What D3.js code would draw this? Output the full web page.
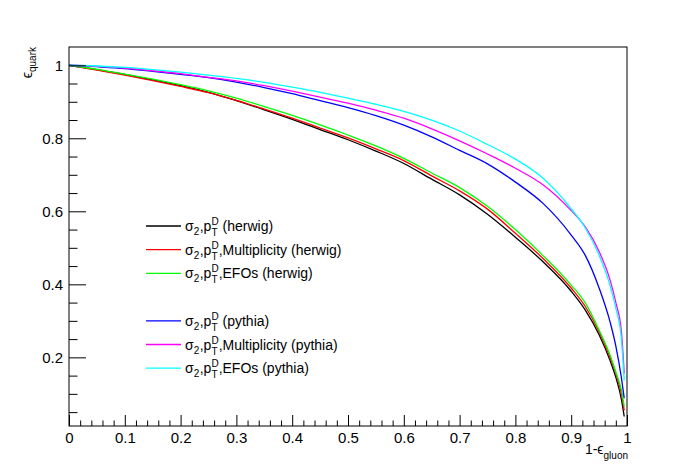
<!DOCTYPE html>
<meta charset="utf-8">
<style>
body { margin: 0; background: #fff; }
svg text { font-family: "Liberation Sans", Arial, Helvetica, sans-serif; fill: #000; white-space: pre; }
.curve { fill: none; stroke-width: 1.3px; }
</style>
<svg width="698" height="475"></svg>
<script src="https://cdn.jsdelivr.net/npm/d3@7"></script>
<script>

// 1 - gluon efficiency (x) sampled along the curves
var effGluon = [0, 0.05, 0.1, 0.15, 0.2, 0.25, 0.3, 0.35, 0.4, 0.45, 0.5, 0.55, 0.6, 0.65, 0.7, 0.75, 0.8, 0.85, 0.9, 0.925, 0.95, 0.97, 0.98, 0.99, 0.995];

// quark efficiency for each curve
var herwigBase  = [1, 0.988, 0.975, 0.960, 0.944, 0.926, 0.903, 0.878, 0.852, 0.824, 0.796, 0.765, 0.731, 0.688, 0.645, 0.592, 0.529, 0.461, 0.381, 0.330, 0.262, 0.190, 0.145, 0.085, 0.038];
var herwigMult  = [1, 0.987, 0.973, 0.958, 0.942, 0.925, 0.904, 0.880, 0.855, 0.828, 0.801, 0.771, 0.739, 0.697, 0.656, 0.606, 0.540, 0.470, 0.390, 0.340, 0.270, 0.198, 0.155, 0.100, 0.055];
var herwigEFOs  = [1, 0.989, 0.976, 0.962, 0.947, 0.930, 0.910, 0.887, 0.863, 0.837, 0.809, 0.779, 0.745, 0.705, 0.665, 0.614, 0.550, 0.478, 0.398, 0.350, 0.275, 0.205, 0.160, 0.110, 0.065];
var pythiaBase  = [1, 0.996, 0.991, 0.983, 0.975, 0.966, 0.954, 0.939, 0.922, 0.903, 0.884, 0.862, 0.836, 0.804, 0.767, 0.730, 0.680, 0.621, 0.535, 0.480, 0.390, 0.295, 0.231, 0.144, 0.088];
var pythiaMult  = [1, 0.997, 0.992, 0.985, 0.977, 0.967, 0.957, 0.944, 0.929, 0.913, 0.896, 0.877, 0.855, 0.826, 0.793, 0.757, 0.718, 0.672, 0.602, 0.558, 0.490, 0.410, 0.350, 0.270, 0.156];
var pythiaEFOs  = [1, 0.998, 0.994, 0.988, 0.981, 0.973, 0.964, 0.953, 0.940, 0.926, 0.910, 0.893, 0.874, 0.850, 0.820, 0.783, 0.743, 0.690, 0.607, 0.555, 0.480, 0.395, 0.335, 0.250, 0.137];

var seriesValues = [herwigBase, herwigMult, herwigEFOs, pythiaBase, pythiaMult, pythiaEFOs];
var seriesColors = ["#000000", "#ff0000", "#00ff00", "#0000ff", "#ff00ff", "#00ffff"];
var legendTails = [" (herwig)", ",Multiplicity (herwig)", ",EFOs (herwig)", " (pythia)", ",Multiplicity (pythia)", ",EFOs (pythia)"];
var legendRows = [0, 1, 2, 4, 5, 6];

var xTicks = [0, 0.1, 0.2, 0.3, 0.4, 0.5, 0.6, 0.7, 0.8, 0.9, 1];
var xTickLabels = ["0", "0.1", "0.2", "0.3", "0.4", "0.5", "0.6", "0.7", "0.8", "0.9", "1"];
var yTicks = [0.2, 0.4, 0.6, 0.8, 1];
var yTickLabels = ["0.2", "0.4", "0.6", "0.8", "1"];

var svg = d3.select("svg");
var padL = 69, padR = 627, padT = 47, padB = 426;

var x = d3.scaleLinear().domain([0, 1]).range([padL, padR]);
var y = d3.scaleLinear().domain([0.012, 1.05]).range([padB, padT]);

// curves
var line = d3.line()
  .curve(d3.curveMonotoneX)
  .x(function(d) { return x(d[0]); })
  .y(function(d) { return y(d[1]); });
seriesValues.forEach(function(vals, i) {
  svg.append("path")
    .attr("class", "curve")
    .attr("stroke", seriesColors[i])
    .attr("d", line(effGluon.map(function(e, j) { return [e, vals[j]]; })));
});

// x axis
var xMinor = d3.range(0, 51).map(function(i) { return i / 50; }).filter(function(v, i) { return i % 5 != 0; });
svg.append("g").attr("transform", "translate(0," + padB + ")")
  .call(d3.axisBottom(x).tickValues(xMinor).tickSizeInner(-5.5).tickSizeOuter(0).tickFormat(""))
  .call(function(g) { g.select(".domain").remove(); });
svg.append("g").attr("transform", "translate(0," + padB + ")")
  .call(d3.axisBottom(x).tickValues(xTicks).tickSizeInner(-11).tickSizeOuter(0).tickPadding(6)
    .tickFormat(function(d, i) { return xTickLabels[i]; }))
  .call(function(g) {
    g.select(".domain").remove();
    g.selectAll("text").style("font-size", "15px").attr("font-family", null);
  });

// y axis
var yMinor = d3.range(1, 21).map(function(i) { return i / 20; }).filter(function(v, i) { return (i + 1) % 4 != 0; });
svg.append("g").attr("transform", "translate(" + padL + ",0)")
  .call(d3.axisLeft(y).tickValues(yMinor).tickSizeInner(-8.5).tickSizeOuter(0).tickFormat(""))
  .call(function(g) { g.select(".domain").remove(); });
svg.append("g").attr("transform", "translate(" + padL + ",0)")
  .call(d3.axisLeft(y).tickValues(yTicks).tickSizeInner(-17).tickSizeOuter(0).tickPadding(6)
    .tickFormat(function(d, i) { return yTickLabels[i]; }))
  .call(function(g) {
    g.select(".domain").remove();
    g.selectAll("text").style("font-size", "15px").attr("font-family", null);
  });

svg.selectAll(".tick line").attr("stroke", "#000");

// frame
svg.append("rect")
  .attr("x", padL).attr("y", padT)
  .attr("width", padR - padL).attr("height", padB - padT)
  .attr("fill", "none").attr("stroke", "#000").attr("stroke-width", 1);

// axis titles
var xt = svg.append("text").attr("x", padR + 1).attr("y", 454)
  .attr("text-anchor", "end").style("font-size", "14px").text("1-\u03f5");
xt.append("tspan").attr("dy", 5).style("font-size", "10px").text("gluon");

var yt = svg.append("text").attr("transform", "translate(32," + padT + ") rotate(-90)")
  .attr("text-anchor", "end").style("font-size", "14px").text("\u03f5");
yt.append("tspan").attr("dy", 4).style("font-size", "10px").text("quark");

// legend
var legend = svg.append("g");
function piece(g, px, py, str, size) {
  var t = g.append("text").attr("x", px).attr("y", py).style("font-size", size + "px").text(str);
  return t.node().getComputedTextLength();
}
legendTails.forEach(function(tail, i) {
  var ry = 226 + legendRows[i] * 23.7;
  var g = legend.append("g");
  g.append("line").attr("x1", 146).attr("x2", 181).attr("y1", ry).attr("y2", ry)
    .attr("stroke", seriesColors[i]).attr("stroke-width", 1.3);
  var base = ry + 5, px = 185;
  px += piece(g, px, base, "\u03c3", 14);
  px += piece(g, px, base + 4, "2", 10) + 0.5;
  px += piece(g, px, base, ",p", 14);
  var wd = piece(g, px, base - 6, "D", 10);
  var wt = piece(g, px, base + 5, "T", 10);
  px += Math.max(wd, wt);
  piece(g, px, base, tail, 14);
});

</script>
